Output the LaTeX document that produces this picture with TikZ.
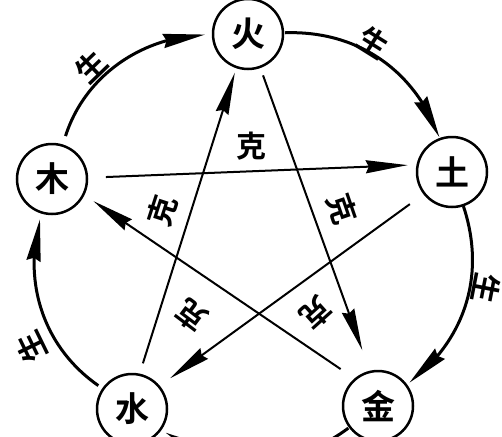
\documentclass[tikz,border=0pt]{standalone}
\usepackage{fontspec}
\newfontfamily\cjk{Noto Sans CJK SC}[BoldFont={Noto Sans CJK SC Bold}]
\usetikzlibrary{arrows.meta,bending}
\begin{document}
\begin{tikzpicture}[x=1pt,y=-1pt,
  elem/.style={circle,draw,line width=2.5pt,minimum size=70pt,inner sep=0pt,outer sep=0pt,font=\cjk\bfseries\fontsize{34}{34}\selectfont},
  sheng/.style={line width=3pt,-{Stealth[length=42pt,width=14pt,inset=3pt]}},
  ke/.style={line width=2pt,-{Stealth[length=42pt,width=13pt,inset=3pt]}},
  lab/.style={font=\cjk\bfseries\fontsize{30}{30}\selectfont,inner sep=0pt}]
\useasboundingbox (0,0) rectangle (502,436);
\fill[white] (0,0) rectangle (502,436);
\clip (0,0) rectangle (502,436);
% elements
\node[elem] (H) at (248,34) {火};
\node[elem] (M) at (52,179) {木};
\node[elem] (T) at (452,172) {土};
\node[elem] (S) at (132,409) {水};
\node[elem] (J) at (378,406) {金};
% sheng cycle
\draw[sheng,shorten <=10pt,shorten >=8pt] (M) to[bend left=36] (H);
\draw[sheng,shorten <=2pt,shorten >=2pt] (H) to[bend left=36] (T);
\draw[sheng,shorten <=1pt,shorten >=4pt] (T) to[bend left=36] (J);
\draw[sheng,shorten <=2pt,shorten >=6pt] (J) to[bend left=36] (S);
\draw[sheng,shorten <=6pt,shorten >=7pt] (S) to[bend left=36] (M);
% ke cycle
\draw[ke,shorten <=19pt,shorten >=10pt] (M.2) -- (T.168);
\draw[ke,shorten <=12pt,shorten >=6pt] (S.78) -- (H.251);
\draw[ke,shorten <=9pt,shorten >=23pt] (H.290) -- (J.103);
\draw[ke,shorten <=18pt,shorten >=14pt] (T.218) -- (S.40);
\draw[ke,shorten <=18pt,shorten >=12pt] (J.130) -- (M.334);
% labels
\node[lab,rotate=44] (s1) at (91,67) {生};
\node[lab,rotate=-32] (s2) at (373,42) {生};
\node[lab,rotate=-101] (s3) at (486,288) {生};
\node[lab,rotate=116] (s4) at (31,347) {生};
\node[lab] (k1) at (251,146) {克};
\node[lab,rotate=72] (k2) at (162,211) {克};
\node[lab,rotate=-71] (k3) at (342,209) {克};
\node[lab,rotate=143] (k4) at (192,316) {克};
\node[lab,rotate=-138] (k5) at (316,313) {克};
\end{tikzpicture}
\end{document}
